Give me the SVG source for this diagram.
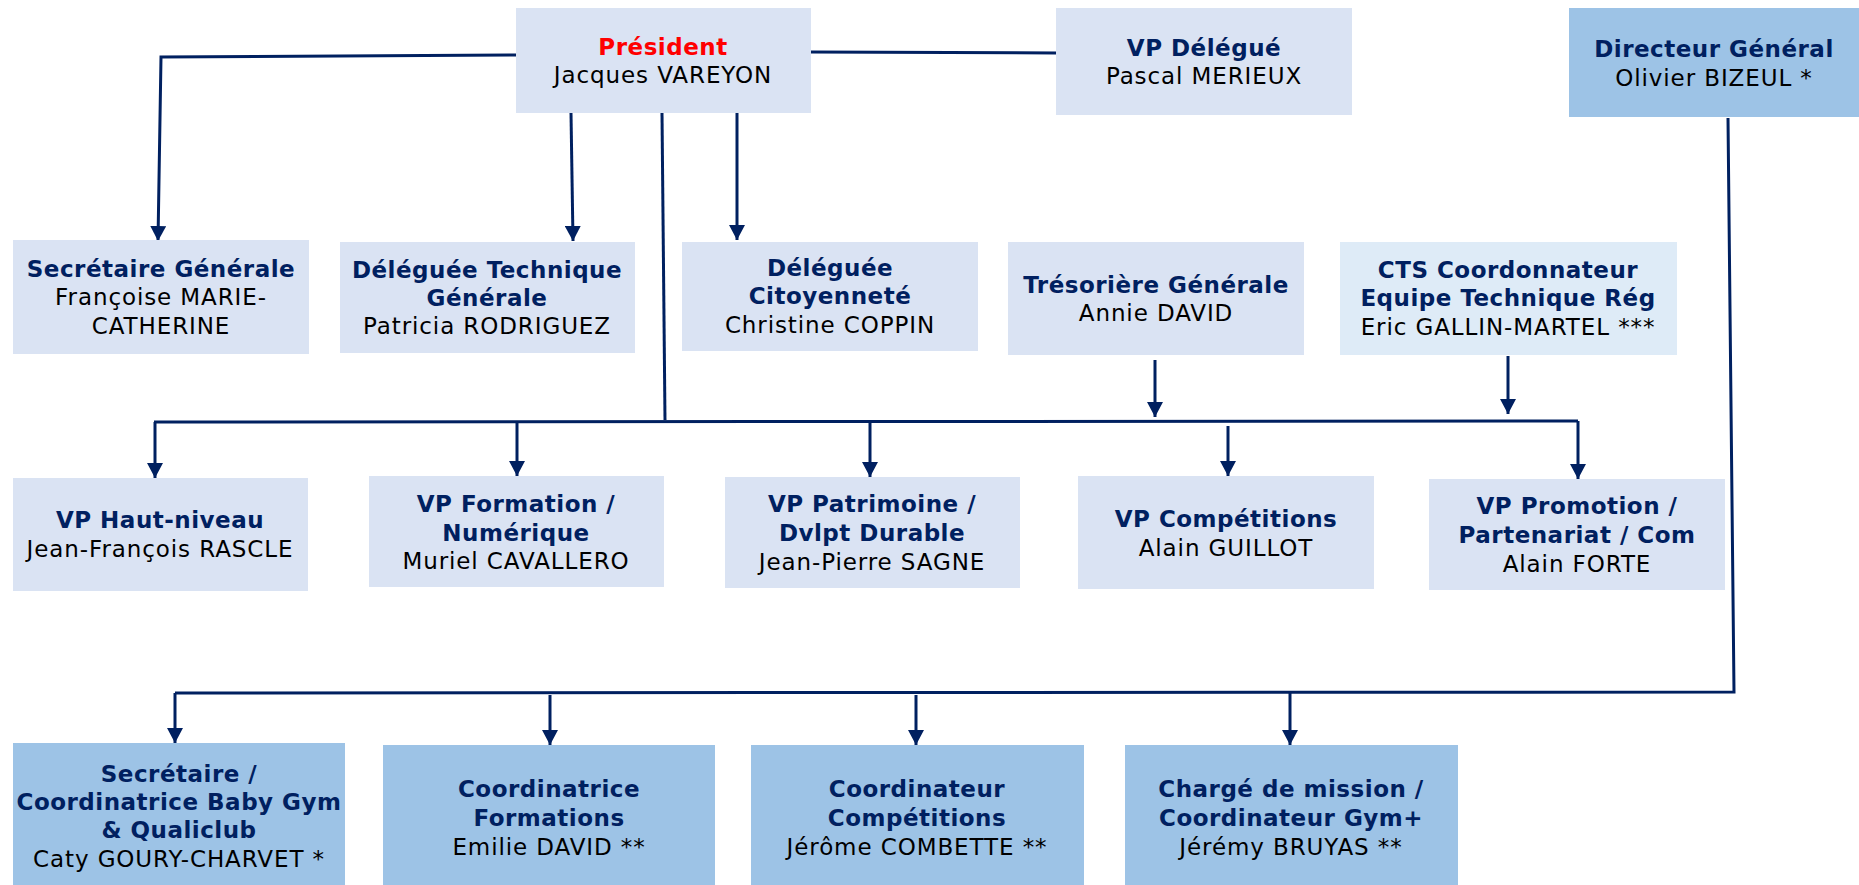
<svg xmlns="http://www.w3.org/2000/svg" width="1859" height="885" viewBox="0 0 1859 885">
<style>
.bl{fill:#DAE3F3}
.bl2{fill:#DEEBF7}
.bd{fill:#9DC3E6}
text{font-family:"DejaVu Sans","Verdana",sans-serif;font-size:23px;text-anchor:middle}
.t{font-weight:bold;fill:#002060;letter-spacing:0.5px}
.r{font-weight:bold;fill:#FF0000;letter-spacing:0.5px}
.n{fill:#000;letter-spacing:0.9px}
.c{fill:none;stroke:#002060;stroke-width:3}
.a{marker-end:url(#ah)}
</style>
<defs>
<marker id="ah" viewBox="0 0 15 16" refX="15" refY="8" markerWidth="15" markerHeight="16" markerUnits="userSpaceOnUse" orient="auto">
<path d="M0,0 L15,8 L0,16 z" fill="#002060"/>
</marker>
</defs>
<rect width="1859" height="885" fill="#fff"/>
<g id="connectors">
<path class="c" d="M811,52 L1056,53"/>
<path class="c a" d="M516,55 L161,57 L158,241"/>
<path class="c a" d="M571,113 L573,241"/>
<path class="c a" d="M737,112 L737,240"/>
<path class="c" d="M662,113 L665,420"/>
<path class="c" d="M154,422 L1578,421"/>
<path class="c a" d="M1578,421 L1578,479"/>
<path class="c a" d="M155,422 L155,478"/>
<path class="c a" d="M517,422 L517,476"/>
<path class="c a" d="M870,422 L870,477"/>
<path class="c a" d="M1228,426 L1228,476"/>
<path class="c a" d="M1155,360 L1155,417"/>
<path class="c a" d="M1508,356 L1508,414"/>
<path class="c" d="M1728,118 L1734,692 L175,693"/>
<path class="c a" d="M175,693 L175,743"/>
<path class="c a" d="M550,695 L550,745"/>
<path class="c a" d="M916,695 L916,745"/>
<path class="c a" d="M1290,693 L1290,745"/>
</g>
<g id="president"><rect class="bl" x="516" y="8" width="295" height="105"/><text x="663" y="55" class="r">Président</text><text x="663" y="83" class="n">Jacques VAREYON</text></g>
<g id="vp-delegue"><rect class="bl" x="1056" y="8" width="296" height="107"/><text x="1204" y="56" class="t">VP Délégué</text><text x="1204" y="84" class="n">Pascal MERIEUX</text></g>
<g id="directeur-general"><rect class="bd" x="1569" y="8" width="290" height="109"/><text x="1714" y="57" class="t">Directeur Général</text><text x="1714" y="86" class="n">Olivier BIZEUL *</text></g>
<g id="secretaire-generale"><rect class="bl" x="13" y="240" width="296" height="114"/><text x="161" y="277" class="t">Secrétaire Générale</text><text x="161" y="305" class="n">Françoise MARIE-</text><text x="161" y="334" class="n">CATHERINE</text></g>
<g id="deleguee-technique"><rect class="bl" x="340" y="242" width="295" height="111"/><text x="487" y="278" class="t">Déléguée Technique</text><text x="487" y="306" class="t">Générale</text><text x="487" y="334" class="n">Patricia RODRIGUEZ</text></g>
<g id="deleguee-citoyennete"><rect class="bl" x="682" y="242" width="296" height="109"/><text x="830" y="276" class="t">Déléguée</text><text x="830" y="304" class="t">Citoyenneté</text><text x="830" y="333" class="n">Christine COPPIN</text></g>
<g id="tresoriere"><rect class="bl" x="1008" y="242" width="296" height="113"/><text x="1156" y="293" class="t">Trésorière Générale</text><text x="1156" y="321" class="n">Annie DAVID</text></g>
<g id="cts"><rect class="bl2" x="1340" y="242" width="337" height="113"/><text x="1508" y="278" class="t">CTS Coordonnateur</text><text x="1508" y="306" class="t">Equipe Technique Rég</text><text x="1508" y="335" class="n">Eric GALLIN-MARTEL ***</text></g>
<g id="vp-haut-niveau"><rect class="bl" x="13" y="478" width="295" height="113"/><text x="160" y="528" class="t">VP Haut-niveau</text><text x="160" y="557" class="n">Jean-François RASCLE</text></g>
<g id="vp-formation"><rect class="bl" x="369" y="476" width="295" height="111"/><text x="516" y="512" class="t">VP Formation /</text><text x="516" y="541" class="t">Numérique</text><text x="516" y="569" class="n">Muriel CAVALLERO</text></g>
<g id="vp-patrimoine"><rect class="bl" x="725" y="477" width="295" height="111"/><text x="872" y="512" class="t">VP Patrimoine /</text><text x="872" y="541" class="t">Dvlpt Durable</text><text x="872" y="570" class="n">Jean-Pierre SAGNE</text></g>
<g id="vp-competitions"><rect class="bl" x="1078" y="476" width="296" height="113"/><text x="1226" y="527" class="t">VP Compétitions</text><text x="1226" y="556" class="n">Alain GUILLOT</text></g>
<g id="vp-promotion"><rect class="bl" x="1429" y="479" width="296" height="111"/><text x="1577" y="514" class="t">VP Promotion /</text><text x="1577" y="543" class="t">Partenariat / Com</text><text x="1577" y="572" class="n">Alain FORTE</text></g>
<g id="secretaire-baby-gym"><rect class="bd" x="13" y="743" width="332" height="142"/><text x="179" y="782" class="t">Secrétaire /</text><text x="179" y="810" class="t">Coordinatrice Baby Gym</text><text x="179" y="838" class="t">&amp; Qualiclub</text><text x="179" y="867" class="n">Caty GOURY-CHARVET *</text></g>
<g id="coordinatrice-formations"><rect class="bd" x="383" y="745" width="332" height="140"/><text x="549" y="797" class="t">Coordinatrice</text><text x="549" y="826" class="t">Formations</text><text x="549" y="855" class="n">Emilie DAVID **</text></g>
<g id="coordinateur-competitions"><rect class="bd" x="751" y="745" width="333" height="140"/><text x="917" y="797" class="t">Coordinateur</text><text x="917" y="826" class="t">Compétitions</text><text x="917" y="855" class="n">Jérôme COMBETTE **</text></g>
<g id="charge-de-mission"><rect class="bd" x="1125" y="745" width="333" height="140"/><text x="1291" y="797" class="t">Chargé de mission /</text><text x="1291" y="826" class="t">Coordinateur Gym+</text><text x="1291" y="855" class="n">Jérémy BRUYAS **</text></g>
</svg>
